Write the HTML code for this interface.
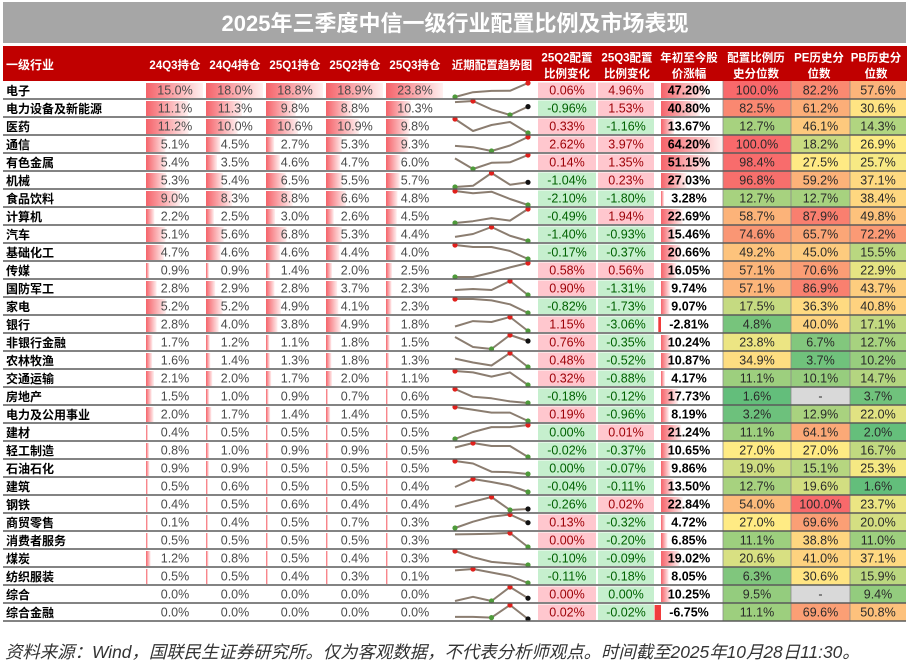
<!DOCTYPE html>
<html><head><meta charset="utf-8">
<style>
html,body{margin:0;padding:0;background:#fff;}
svg{display:block;font-family:"Liberation Sans","Noto Sans CJK SC",sans-serif;}
.t{font-size:22px;font-weight:bold;fill:#fff;text-anchor:middle;}
.h{font-size:11.5px;font-weight:bold;fill:#fff;text-anchor:middle;}
.l{font-size:12px;font-weight:bold;fill:#000;}
.v{font-size:12.5px;fill:#4a4a4a;text-anchor:middle;}
.y{font-size:12.5px;font-weight:bold;fill:#000;text-anchor:middle;}
.p{font-size:12.5px;fill:#9c0006;text-anchor:middle;}
.n{font-size:12.5px;fill:#006100;text-anchor:middle;}
.c{font-size:12.5px;fill:#2a2a2a;text-anchor:middle;}
.b{fill:url(#gb);}
.nb{fill:#f03c3c;}
.pb{fill:#ffc7ce;}
.gb{fill:#c6efce;}
.s{fill:none;stroke:#8b7d70;stroke-width:2;stroke-linejoin:round;}
.mr{fill:#e0201c;}
.mg{fill:#4e9a3a;}
.mk{fill:#111;}
.f{font-size:17.4px;font-style:italic;fill:#333;}
</style></head>
<body>
<svg width="908" height="664" viewBox="0 0 908 664" xmlns="http://www.w3.org/2000/svg">
<defs>
<linearGradient id="gb" x1="0" x2="1" y1="0" y2="0"><stop offset="0" stop-color="#f5636a"/><stop offset="1" stop-color="#fff0f0"/></linearGradient>
</defs>
<rect x="3" y="2" width="903" height="41" fill="#a6a6a6"/>
<text class="t" x="455" y="31">2025年三季度中信一级行业配置比例及市场表现</text>
<rect x="3" y="46" width="904" height="35" fill="#c00000"/>
<text class="h" x="6" y="69" style="text-anchor:start;font-size:12px">一级行业</text>
<text class="h" x="175" y="69">24Q3持仓</text>
<text class="h" x="235" y="69">24Q4持仓</text>
<text class="h" x="295" y="69">25Q1持仓</text>
<text class="h" x="355" y="69">25Q2持仓</text>
<text class="h" x="415" y="69">25Q3持仓</text>
<text class="h" x="492" y="69">近期配置趋势图</text>
<text class="h" x="567" y="61.5">25Q2配置</text><text class="h" x="567" y="77.5">比例变化</text>
<text class="h" x="627" y="61.5">25Q3配置</text><text class="h" x="627" y="77.5">比例变化</text>
<text class="h" x="689" y="61.5">年初至今股</text><text class="h" x="689" y="77.5">价涨幅</text>
<text class="h" x="756" y="61.5">配置比例历</text><text class="h" x="756" y="77.5">史分位数</text>
<text class="h" x="819" y="61.5">PE历史分</text><text class="h" x="819" y="77.5">位数</text>
<text class="h" x="876" y="61.5">PB历史分</text><text class="h" x="876" y="77.5">位数</text>

<!-- Row 0 -->
<g transform="translate(0,81)">
<text class="l" x="6" y="14">电子</text>
<rect class="b" x="146" y="2" width="57" height="15"/><rect class="b" x="206" y="2" width="57" height="15"/><rect class="b" x="266" y="2" width="57" height="15"/><rect class="b" x="326" y="2" width="57" height="15"/><rect class="b" x="386" y="2" width="57" height="15"/>
<text class="v" x="175" y="13.5">15.0%</text><text class="v" x="235" y="13.5">18.0%</text><text class="v" x="295" y="13.5">18.8%</text><text class="v" x="355" y="13.5">18.9%</text><text class="v" x="415" y="13.5">23.8%</text>
<polyline class="s" points="455,16 473,11.2 491.5,9.9 510,9.8 528,2"/><circle class="mg" cx="455" cy="16" r="2.6"/><circle class="mr" cx="528" cy="2" r="2.6"/>
<rect class="pb" x="538" y="1.5" width="58" height="15.5"/><text class="p" x="567" y="13.5">0.06%</text>
<rect class="pb" x="598" y="1.5" width="56" height="15.5"/><text class="p" x="626" y="13.5">4.96%</text>
<rect class="b" x="661" y="2" width="44.8" height="15"/><text class="y" x="689" y="13.5">47.20%</text>
<rect x="723" y="0" width="68" height="18" fill="rgb(248,105,107)"/><text class="c" x="757" y="13.5">100.0%</text>
<rect x="791" y="0" width="59" height="18" fill="rgb(250,137,113)"/><text class="c" x="820.5" y="13.5">82.2%</text>
<rect x="850" y="0" width="56" height="18" fill="rgb(252,180,122)"/><text class="c" x="878" y="13.5">57.6%</text>
</g>
<!-- Row 1 -->
<g transform="translate(0,99)">
<text class="l" x="6" y="14">电力设备及新能源</text>
<rect class="b" x="146" y="2" width="42.2" height="15"/><rect class="b" x="206" y="2" width="35.8" height="15"/><rect class="b" x="266" y="2" width="29.7" height="15"/><rect class="b" x="326" y="2" width="26.5" height="15"/><rect class="b" x="386" y="2" width="24.7" height="15"/>
<text class="v" x="175" y="13.5">11.1%</text><text class="v" x="235" y="13.5">11.3%</text><text class="v" x="295" y="13.5">9.8%</text><text class="v" x="355" y="13.5">8.8%</text><text class="v" x="415" y="13.5">10.3%</text>
<polyline class="s" points="455,3.1 473,2 491.5,10.4 510,16 528,7.6"/><circle class="mr" cx="473" cy="2" r="2.6"/><circle class="mg" cx="510" cy="16" r="2.6"/><circle class="mk" cx="528" cy="7.6" r="2.6"/>
<rect class="gb" x="538" y="1.5" width="58" height="15.5"/><text class="n" x="567" y="13.5">-0.96%</text>
<rect class="pb" x="598" y="1.5" width="56" height="15.5"/><text class="p" x="626" y="13.5">1.53%</text>
<rect class="b" x="661" y="2" width="38.8" height="15"/><text class="y" x="689" y="13.5">40.80%</text>
<rect x="723" y="0" width="68" height="18" fill="rgb(250,136,113)"/><text class="c" x="757" y="13.5">82.5%</text>
<rect x="791" y="0" width="59" height="18" fill="rgb(252,174,120)"/><text class="c" x="820.5" y="13.5">61.2%</text>
<rect x="850" y="0" width="56" height="18" fill="rgb(255,228,131)"/><text class="c" x="878" y="13.5">30.6%</text>
</g>
<!-- Row 2 -->
<g transform="translate(0,117)">
<text class="l" x="6" y="14">医药</text>
<rect class="b" x="146" y="2" width="42.6" height="15"/><rect class="b" x="206" y="2" width="31.7" height="15"/><rect class="b" x="266" y="2" width="32.1" height="15"/><rect class="b" x="326" y="2" width="32.9" height="15"/><rect class="b" x="386" y="2" width="23.5" height="15"/>
<text class="v" x="175" y="13.5">11.2%</text><text class="v" x="235" y="13.5">10.0%</text><text class="v" x="295" y="13.5">10.6%</text><text class="v" x="355" y="13.5">10.9%</text><text class="v" x="415" y="13.5">9.8%</text>
<polyline class="s" points="455,2 473,14 491.5,8 510,5 528,16"/><circle class="mr" cx="455" cy="2" r="2.6"/><circle class="mg" cx="528" cy="16" r="2.6"/>
<rect class="pb" x="538" y="1.5" width="58" height="15.5"/><text class="p" x="567" y="13.5">0.33%</text>
<rect class="gb" x="598" y="1.5" width="56" height="15.5"/><text class="n" x="626" y="13.5">-1.16%</text>
<rect class="b" x="661" y="2" width="13" height="15"/><text class="y" x="689" y="13.5">13.67%</text>
<rect x="723" y="0" width="68" height="18" fill="rgb(167,210,127)"/><text class="c" x="757" y="13.5">12.7%</text>
<rect x="791" y="0" width="59" height="18" fill="rgb(253,201,125)"/><text class="c" x="820.5" y="13.5">46.1%</text>
<rect x="850" y="0" width="56" height="18" fill="rgb(177,213,128)"/><text class="c" x="878" y="13.5">14.3%</text>
</g>
<!-- Row 3 -->
<g transform="translate(0,135)">
<text class="l" x="6" y="14">通信</text>
<rect class="b" x="146" y="2" width="19.4" height="15"/><rect class="b" x="206" y="2" width="14.3" height="15"/><rect class="b" x="266" y="2" width="8.2" height="15"/><rect class="b" x="326" y="2" width="16" height="15"/><rect class="b" x="386" y="2" width="22.3" height="15"/>
<text class="v" x="175" y="13.5">5.1%</text><text class="v" x="235" y="13.5">4.5%</text><text class="v" x="295" y="13.5">2.7%</text><text class="v" x="355" y="13.5">5.3%</text><text class="v" x="415" y="13.5">9.3%</text>
<polyline class="s" points="455,10.9 473,12.2 491.5,16 510,10.5 528,2"/><circle class="mg" cx="491.5" cy="16" r="2.6"/><circle class="mr" cx="528" cy="2" r="2.6"/>
<rect class="pb" x="538" y="1.5" width="58" height="15.5"/><text class="p" x="567" y="13.5">2.62%</text>
<rect class="pb" x="598" y="1.5" width="56" height="15.5"/><text class="p" x="626" y="13.5">3.97%</text>
<rect class="b" x="661" y="2" width="61" height="15"/><text class="y" x="689" y="13.5">64.20%</text>
<rect x="723" y="0" width="68" height="18" fill="rgb(248,105,107)"/><text class="c" x="757" y="13.5">100.0%</text>
<rect x="791" y="0" width="59" height="18" fill="rgb(201,219,129)"/><text class="c" x="820.5" y="13.5">18.2%</text>
<rect x="850" y="0" width="56" height="18" fill="rgb(254,235,132)"/><text class="c" x="878" y="13.5">26.9%</text>
</g>
<!-- Row 4 -->
<g transform="translate(0,153)">
<text class="l" x="6" y="14">有色金属</text>
<rect class="b" x="146" y="2" width="20.5" height="15"/><rect class="b" x="206" y="2" width="11.1" height="15"/><rect class="b" x="266" y="2" width="13.9" height="15"/><rect class="b" x="326" y="2" width="14.2" height="15"/><rect class="b" x="386" y="2" width="14.4" height="15"/>
<text class="v" x="175" y="13.5">5.4%</text><text class="v" x="235" y="13.5">3.5%</text><text class="v" x="295" y="13.5">4.6%</text><text class="v" x="355" y="13.5">4.7%</text><text class="v" x="415" y="13.5">6.0%</text>
<polyline class="s" points="455,5.4 473,16 491.5,9.8 510,9.3 528,2"/><circle class="mg" cx="473" cy="16" r="2.6"/><circle class="mr" cx="528" cy="2" r="2.6"/>
<rect class="pb" x="538" y="1.5" width="58" height="15.5"/><text class="p" x="567" y="13.5">0.14%</text>
<rect class="pb" x="598" y="1.5" width="56" height="15.5"/><text class="p" x="626" y="13.5">1.35%</text>
<rect class="b" x="661" y="2" width="48.6" height="15"/><text class="y" x="689" y="13.5">51.15%</text>
<rect x="723" y="0" width="68" height="18" fill="rgb(248,108,108)"/><text class="c" x="757" y="13.5">98.4%</text>
<rect x="791" y="0" width="59" height="18" fill="rgb(255,234,132)"/><text class="c" x="820.5" y="13.5">27.5%</text>
<rect x="850" y="0" width="56" height="18" fill="rgb(247,233,132)"/><text class="c" x="878" y="13.5">25.7%</text>
</g>
<!-- Row 5 -->
<g transform="translate(0,171)">
<text class="l" x="6" y="14">机械</text>
<rect class="b" x="146" y="2" width="20.1" height="15"/><rect class="b" x="206" y="2" width="17.1" height="15"/><rect class="b" x="266" y="2" width="19.7" height="15"/><rect class="b" x="326" y="2" width="16.6" height="15"/><rect class="b" x="386" y="2" width="13.7" height="15"/>
<text class="v" x="175" y="13.5">5.3%</text><text class="v" x="235" y="13.5">5.4%</text><text class="v" x="295" y="13.5">6.5%</text><text class="v" x="355" y="13.5">5.5%</text><text class="v" x="415" y="13.5">5.7%</text>
<polyline class="s" points="455,16 473,14.8 491.5,2 510,13.7 528,11.3"/><circle class="mg" cx="455" cy="16" r="2.6"/><circle class="mr" cx="491.5" cy="2" r="2.6"/><circle class="mk" cx="528" cy="11.3" r="2.6"/>
<rect class="gb" x="538" y="1.5" width="58" height="15.5"/><text class="n" x="567" y="13.5">-1.04%</text>
<rect class="pb" x="598" y="1.5" width="56" height="15.5"/><text class="p" x="626" y="13.5">0.23%</text>
<rect class="b" x="661" y="2" width="25.7" height="15"/><text class="y" x="689" y="13.5">27.03%</text>
<rect x="723" y="0" width="68" height="18" fill="rgb(248,111,108)"/><text class="c" x="757" y="13.5">96.8%</text>
<rect x="791" y="0" width="59" height="18" fill="rgb(252,178,121)"/><text class="c" x="820.5" y="13.5">59.2%</text>
<rect x="850" y="0" width="56" height="18" fill="rgb(254,217,129)"/><text class="c" x="878" y="13.5">37.1%</text>
</g>
<!-- Row 6 -->
<g transform="translate(0,189)">
<text class="l" x="6" y="14">食品饮料</text>
<rect class="b" x="146" y="2" width="34.2" height="15"/><rect class="b" x="206" y="2" width="26.3" height="15"/><rect class="b" x="266" y="2" width="26.7" height="15"/><rect class="b" x="326" y="2" width="19.9" height="15"/><rect class="b" x="386" y="2" width="11.5" height="15"/>
<text class="v" x="175" y="13.5">9.0%</text><text class="v" x="235" y="13.5">8.3%</text><text class="v" x="295" y="13.5">8.8%</text><text class="v" x="355" y="13.5">6.6%</text><text class="v" x="415" y="13.5">4.8%</text>
<polyline class="s" points="455,2 473,4.3 491.5,2.7 510,10 528,16"/><circle class="mr" cx="455" cy="2" r="2.6"/><circle class="mg" cx="528" cy="16" r="2.6"/>
<rect class="gb" x="538" y="1.5" width="58" height="15.5"/><text class="n" x="567" y="13.5">-2.10%</text>
<rect class="gb" x="598" y="1.5" width="56" height="15.5"/><text class="n" x="626" y="13.5">-1.80%</text>
<rect class="b" x="661" y="2" width="3.1" height="15"/><text class="y" x="689" y="13.5">3.28%</text>
<rect x="723" y="0" width="68" height="18" fill="rgb(167,210,127)"/><text class="c" x="757" y="13.5">12.7%</text>
<rect x="791" y="0" width="59" height="18" fill="rgb(167,210,127)"/><text class="c" x="820.5" y="13.5">12.7%</text>
<rect x="850" y="0" width="56" height="18" fill="rgb(254,215,128)"/><text class="c" x="878" y="13.5">38.4%</text>
</g>
<!-- Row 7 -->
<g transform="translate(0,207)">
<text class="l" x="6" y="14">计算机</text>
<rect class="b" x="146" y="2" width="8.4" height="15"/><rect class="b" x="206" y="2" width="7.9" height="15"/><rect class="b" x="266" y="2" width="9.1" height="15"/><rect class="b" x="326" y="2" width="7.8" height="15"/><rect class="b" x="386" y="2" width="10.8" height="15"/>
<text class="v" x="175" y="13.5">2.2%</text><text class="v" x="235" y="13.5">2.5%</text><text class="v" x="295" y="13.5">3.0%</text><text class="v" x="355" y="13.5">2.6%</text><text class="v" x="415" y="13.5">4.5%</text>
<polyline class="s" points="455,16 473,14.2 491.5,11.1 510,13.6 528,2"/><circle class="mg" cx="455" cy="16" r="2.6"/><circle class="mr" cx="528" cy="2" r="2.6"/>
<rect class="gb" x="538" y="1.5" width="58" height="15.5"/><text class="n" x="567" y="13.5">-0.49%</text>
<rect class="pb" x="598" y="1.5" width="56" height="15.5"/><text class="p" x="626" y="13.5">1.94%</text>
<rect class="b" x="661" y="2" width="21.6" height="15"/><text class="y" x="689" y="13.5">22.69%</text>
<rect x="723" y="0" width="68" height="18" fill="rgb(252,179,121)"/><text class="c" x="757" y="13.5">58.7%</text>
<rect x="791" y="0" width="59" height="18" fill="rgb(249,127,111)"/><text class="c" x="820.5" y="13.5">87.9%</text>
<rect x="850" y="0" width="56" height="18" fill="rgb(253,194,124)"/><text class="c" x="878" y="13.5">49.8%</text>
</g>
<!-- Row 8 -->
<g transform="translate(0,225)">
<text class="l" x="6" y="14">汽车</text>
<rect class="b" x="146" y="2" width="19.4" height="15"/><rect class="b" x="206" y="2" width="17.7" height="15"/><rect class="b" x="266" y="2" width="20.6" height="15"/><rect class="b" x="326" y="2" width="16" height="15"/><rect class="b" x="386" y="2" width="10.5" height="15"/>
<text class="v" x="175" y="13.5">5.1%</text><text class="v" x="235" y="13.5">5.6%</text><text class="v" x="295" y="13.5">6.8%</text><text class="v" x="355" y="13.5">5.3%</text><text class="v" x="415" y="13.5">4.4%</text>
<polyline class="s" points="455,11.9 473,9 491.5,2 510,10.75 528,16"/><circle class="mr" cx="491.5" cy="2" r="2.6"/><circle class="mg" cx="528" cy="16" r="2.6"/>
<rect class="gb" x="538" y="1.5" width="58" height="15.5"/><text class="n" x="567" y="13.5">-1.40%</text>
<rect class="gb" x="598" y="1.5" width="56" height="15.5"/><text class="n" x="626" y="13.5">-0.93%</text>
<rect class="b" x="661" y="2" width="14.7" height="15"/><text class="y" x="689" y="13.5">15.46%</text>
<rect x="723" y="0" width="68" height="18" fill="rgb(250,150,116)"/><text class="c" x="757" y="13.5">74.6%</text>
<rect x="791" y="0" width="59" height="18" fill="rgb(251,166,119)"/><text class="c" x="820.5" y="13.5">65.7%</text>
<rect x="850" y="0" width="56" height="18" fill="rgb(251,154,117)"/><text class="c" x="878" y="13.5">72.2%</text>
</g>
<!-- Row 9 -->
<g transform="translate(0,243)">
<text class="l" x="6" y="14">基础化工</text>
<rect class="b" x="146" y="2" width="17.9" height="15"/><rect class="b" x="206" y="2" width="14.6" height="15"/><rect class="b" x="266" y="2" width="13.9" height="15"/><rect class="b" x="326" y="2" width="13.3" height="15"/><rect class="b" x="386" y="2" width="9.6" height="15"/>
<text class="v" x="175" y="13.5">4.7%</text><text class="v" x="235" y="13.5">4.6%</text><text class="v" x="295" y="13.5">4.6%</text><text class="v" x="355" y="13.5">4.4%</text><text class="v" x="415" y="13.5">4.0%</text>
<polyline class="s" points="455,2 473,4 491.5,4 510,8 528,16"/><circle class="mr" cx="455" cy="2" r="2.6"/><circle class="mg" cx="528" cy="16" r="2.6"/>
<rect class="gb" x="538" y="1.5" width="58" height="15.5"/><text class="n" x="567" y="13.5">-0.17%</text>
<rect class="gb" x="598" y="1.5" width="56" height="15.5"/><text class="n" x="626" y="13.5">-0.37%</text>
<rect class="b" x="661" y="2" width="19.6" height="15"/><text class="y" x="689" y="13.5">20.66%</text>
<rect x="723" y="0" width="68" height="18" fill="rgb(253,195,124)"/><text class="c" x="757" y="13.5">49.2%</text>
<rect x="791" y="0" width="59" height="18" fill="rgb(253,203,126)"/><text class="c" x="820.5" y="13.5">45.0%</text>
<rect x="850" y="0" width="56" height="18" fill="rgb(185,215,128)"/><text class="c" x="878" y="13.5">15.5%</text>
</g>
<!-- Row 10 -->
<g transform="translate(0,261)">
<text class="l" x="6" y="14">传媒</text>
<rect class="b" x="146" y="2" width="3.4" height="15"/><rect class="b" x="206" y="2" width="2.9" height="15"/><rect class="b" x="266" y="2" width="4.2" height="15"/><rect class="b" x="326" y="2" width="6" height="15"/><rect class="b" x="386" y="2" width="6" height="15"/>
<text class="v" x="175" y="13.5">0.9%</text><text class="v" x="235" y="13.5">0.9%</text><text class="v" x="295" y="13.5">1.4%</text><text class="v" x="355" y="13.5">2.0%</text><text class="v" x="415" y="13.5">2.5%</text>
<polyline class="s" points="455,16 473,16 491.5,11.6 510,6.4 528,2"/><circle class="mg" cx="455" cy="16" r="2.6"/><circle class="mr" cx="528" cy="2" r="2.6"/>
<rect class="pb" x="538" y="1.5" width="58" height="15.5"/><text class="p" x="567" y="13.5">0.58%</text>
<rect class="pb" x="598" y="1.5" width="56" height="15.5"/><text class="p" x="626" y="13.5">0.56%</text>
<rect class="b" x="661" y="2" width="15.3" height="15"/><text class="y" x="689" y="13.5">16.05%</text>
<rect x="723" y="0" width="68" height="18" fill="rgb(252,181,122)"/><text class="c" x="757" y="13.5">57.1%</text>
<rect x="791" y="0" width="59" height="18" fill="rgb(251,157,117)"/><text class="c" x="820.5" y="13.5">70.6%</text>
<rect x="850" y="0" width="56" height="18" fill="rgb(230,228,131)"/><text class="c" x="878" y="13.5">22.9%</text>
</g>
<!-- Row 11 -->
<g transform="translate(0,279)">
<text class="l" x="6" y="14">国防军工</text>
<rect class="b" x="146" y="2" width="10.6" height="15"/><rect class="b" x="206" y="2" width="9.2" height="15"/><rect class="b" x="266" y="2" width="8.5" height="15"/><rect class="b" x="326" y="2" width="11.2" height="15"/><rect class="b" x="386" y="2" width="5.5" height="15"/>
<text class="v" x="175" y="13.5">2.8%</text><text class="v" x="235" y="13.5">2.9%</text><text class="v" x="295" y="13.5">2.8%</text><text class="v" x="355" y="13.5">3.7%</text><text class="v" x="415" y="13.5">2.3%</text>
<polyline class="s" points="455,11 473,10 491.5,11 510,2 528,16"/><circle class="mr" cx="510" cy="2" r="2.6"/><circle class="mg" cx="528" cy="16" r="2.6"/>
<rect class="pb" x="538" y="1.5" width="58" height="15.5"/><text class="p" x="567" y="13.5">0.90%</text>
<rect class="gb" x="598" y="1.5" width="56" height="15.5"/><text class="n" x="626" y="13.5">-1.31%</text>
<rect class="b" x="661" y="2" width="9.3" height="15"/><text class="y" x="689" y="13.5">9.74%</text>
<rect x="723" y="0" width="68" height="18" fill="rgb(252,181,122)"/><text class="c" x="757" y="13.5">57.1%</text>
<rect x="791" y="0" width="59" height="18" fill="rgb(249,128,111)"/><text class="c" x="820.5" y="13.5">86.9%</text>
<rect x="850" y="0" width="56" height="18" fill="rgb(253,205,126)"/><text class="c" x="878" y="13.5">43.7%</text>
</g>
<!-- Row 12 -->
<g transform="translate(0,297)">
<text class="l" x="6" y="14">家电</text>
<rect class="b" x="146" y="2" width="19.8" height="15"/><rect class="b" x="206" y="2" width="16.5" height="15"/><rect class="b" x="266" y="2" width="14.9" height="15"/><rect class="b" x="326" y="2" width="12.4" height="15"/><rect class="b" x="386" y="2" width="5.5" height="15"/>
<text class="v" x="175" y="13.5">5.2%</text><text class="v" x="235" y="13.5">5.2%</text><text class="v" x="295" y="13.5">4.9%</text><text class="v" x="355" y="13.5">4.1%</text><text class="v" x="415" y="13.5">2.3%</text>
<polyline class="s" points="455,2 473,2 491.5,3.4 510,7.3 528,16"/><circle class="mr" cx="455" cy="2" r="2.6"/><circle class="mg" cx="528" cy="16" r="2.6"/>
<rect class="gb" x="538" y="1.5" width="58" height="15.5"/><text class="n" x="567" y="13.5">-0.82%</text>
<rect class="gb" x="598" y="1.5" width="56" height="15.5"/><text class="n" x="626" y="13.5">-1.73%</text>
<rect class="b" x="661" y="2" width="8.6" height="15"/><text class="y" x="689" y="13.5">9.07%</text>
<rect x="723" y="0" width="68" height="18" fill="rgb(197,218,129)"/><text class="c" x="757" y="13.5">17.5%</text>
<rect x="791" y="0" width="59" height="18" fill="rgb(254,218,129)"/><text class="c" x="820.5" y="13.5">36.3%</text>
<rect x="850" y="0" width="56" height="18" fill="rgb(254,210,127)"/><text class="c" x="878" y="13.5">40.8%</text>
</g>
<!-- Row 13 -->
<g transform="translate(0,315)">
<text class="l" x="6" y="14">银行</text>
<rect class="b" x="146" y="2" width="10.6" height="15"/><rect class="b" x="206" y="2" width="12.7" height="15"/><rect class="b" x="266" y="2" width="11.5" height="15"/><rect class="b" x="326" y="2" width="14.8" height="15"/><rect class="b" x="386" y="2" width="4.3" height="15"/>
<text class="v" x="175" y="13.5">2.8%</text><text class="v" x="235" y="13.5">4.0%</text><text class="v" x="295" y="13.5">3.8%</text><text class="v" x="355" y="13.5">4.9%</text><text class="v" x="415" y="13.5">1.8%</text>
<polyline class="s" points="455,11.5 473,6.1 491.5,7 510,2 528,16"/><circle class="mr" cx="510" cy="2" r="2.6"/><circle class="mg" cx="528" cy="16" r="2.6"/>
<rect class="pb" x="538" y="1.5" width="58" height="15.5"/><text class="p" x="567" y="13.5">1.15%</text>
<rect class="gb" x="598" y="1.5" width="56" height="15.5"/><text class="n" x="626" y="13.5">-3.06%</text>
<rect class="nb" x="658.3" y="2" width="2.7" height="15"/><text class="y" x="689" y="13.5">-2.81%</text>
<rect x="723" y="0" width="68" height="18" fill="rgb(119,196,124)"/><text class="c" x="757" y="13.5">4.8%</text>
<rect x="791" y="0" width="59" height="18" fill="rgb(254,212,128)"/><text class="c" x="820.5" y="13.5">40.0%</text>
<rect x="850" y="0" width="56" height="18" fill="rgb(194,217,129)"/><text class="c" x="878" y="13.5">17.1%</text>
</g>
<!-- Row 14 -->
<g transform="translate(0,333)">
<text class="l" x="6" y="14">非银行金融</text>
<rect class="b" x="146" y="2" width="6.5" height="15"/><rect class="b" x="206" y="2" width="3.8" height="15"/><rect class="b" x="266" y="2" width="3.3" height="15"/><rect class="b" x="326" y="2" width="5.4" height="15"/><rect class="b" x="386" y="2" width="3.6" height="15"/>
<text class="v" x="175" y="13.5">1.7%</text><text class="v" x="235" y="13.5">1.2%</text><text class="v" x="295" y="13.5">1.1%</text><text class="v" x="355" y="13.5">1.8%</text><text class="v" x="415" y="13.5">1.5%</text>
<polyline class="s" points="455,4 473,14 491.5,16 510,2 528,8"/><circle class="mg" cx="491.5" cy="16" r="2.6"/><circle class="mr" cx="510" cy="2" r="2.6"/><circle class="mk" cx="528" cy="8" r="2.6"/>
<rect class="pb" x="538" y="1.5" width="58" height="15.5"/><text class="p" x="567" y="13.5">0.76%</text>
<rect class="gb" x="598" y="1.5" width="56" height="15.5"/><text class="n" x="626" y="13.5">-0.35%</text>
<rect class="b" x="661" y="2" width="9.7" height="15"/><text class="y" x="689" y="13.5">10.24%</text>
<rect x="723" y="0" width="68" height="18" fill="rgb(236,229,131)"/><text class="c" x="757" y="13.5">23.8%</text>
<rect x="791" y="0" width="59" height="18" fill="rgb(130,199,125)"/><text class="c" x="820.5" y="13.5">6.7%</text>
<rect x="850" y="0" width="56" height="18" fill="rgb(167,210,127)"/><text class="c" x="878" y="13.5">12.7%</text>
</g>
<!-- Row 15 -->
<g transform="translate(0,351)">
<text class="l" x="6" y="14">农林牧渔</text>
<rect class="b" x="146" y="2" width="6.1" height="15"/><rect class="b" x="206" y="2" width="4.4" height="15"/><rect class="b" x="266" y="2" width="3.9" height="15"/><rect class="b" x="326" y="2" width="5.4" height="15"/><rect class="b" x="386" y="2" width="3.1" height="15"/>
<text class="v" x="175" y="13.5">1.6%</text><text class="v" x="235" y="13.5">1.4%</text><text class="v" x="295" y="13.5">1.3%</text><text class="v" x="355" y="13.5">1.8%</text><text class="v" x="415" y="13.5">1.3%</text>
<polyline class="s" points="455,7.6 473,11.5 491.5,14.5 510,2 528,16"/><circle class="mr" cx="510" cy="2" r="2.6"/><circle class="mg" cx="528" cy="16" r="2.6"/>
<rect class="pb" x="538" y="1.5" width="58" height="15.5"/><text class="p" x="567" y="13.5">0.48%</text>
<rect class="gb" x="598" y="1.5" width="56" height="15.5"/><text class="n" x="626" y="13.5">-0.52%</text>
<rect class="b" x="661" y="2" width="10.3" height="15"/><text class="y" x="689" y="13.5">10.87%</text>
<rect x="723" y="0" width="68" height="18" fill="rgb(254,221,129)"/><text class="c" x="757" y="13.5">34.9%</text>
<rect x="791" y="0" width="59" height="18" fill="rgb(112,194,124)"/><text class="c" x="820.5" y="13.5">3.7%</text>
<rect x="850" y="0" width="56" height="18" fill="rgb(152,205,126)"/><text class="c" x="878" y="13.5">10.2%</text>
</g>
<!-- Row 16 -->
<g transform="translate(0,369)">
<text class="l" x="6" y="14">交通运输</text>
<rect class="b" x="146" y="2" width="8" height="15"/><rect class="b" x="206" y="2" width="6.3" height="15"/><rect class="b" x="266" y="2" width="5.2" height="15"/><rect class="b" x="326" y="2" width="6" height="15"/><rect class="b" x="386" y="2" width="2.6" height="15"/>
<text class="v" x="175" y="13.5">2.1%</text><text class="v" x="235" y="13.5">2.0%</text><text class="v" x="295" y="13.5">1.7%</text><text class="v" x="355" y="13.5">2.0%</text><text class="v" x="415" y="13.5">1.1%</text>
<polyline class="s" points="455,2 473,3.4 491.5,7.6 510,3.4 528,16"/><circle class="mr" cx="455" cy="2" r="2.6"/><circle class="mg" cx="528" cy="16" r="2.6"/>
<rect class="pb" x="538" y="1.5" width="58" height="15.5"/><text class="p" x="567" y="13.5">0.32%</text>
<rect class="gb" x="598" y="1.5" width="56" height="15.5"/><text class="n" x="626" y="13.5">-0.88%</text>
<rect class="b" x="661" y="2" width="4" height="15"/><text class="y" x="689" y="13.5">4.17%</text>
<rect x="723" y="0" width="68" height="18" fill="rgb(157,207,126)"/><text class="c" x="757" y="13.5">11.1%</text>
<rect x="791" y="0" width="59" height="18" fill="rgb(151,205,126)"/><text class="c" x="820.5" y="13.5">10.1%</text>
<rect x="850" y="0" width="56" height="18" fill="rgb(180,213,128)"/><text class="c" x="878" y="13.5">14.7%</text>
</g>
<!-- Row 17 -->
<g transform="translate(0,387)">
<text class="l" x="6" y="14">房地产</text>
<rect class="b" x="146" y="2" width="5.7" height="15"/><rect class="b" x="206" y="2" width="3.2" height="15"/><rect class="b" x="266" y="2" width="2.7" height="15"/><rect class="b" x="326" y="2" width="2.1" height="15"/><rect class="b" x="386" y="2" width="2" height="15"/>
<text class="v" x="175" y="13.5">1.5%</text><text class="v" x="235" y="13.5">1.0%</text><text class="v" x="295" y="13.5">0.9%</text><text class="v" x="355" y="13.5">0.7%</text><text class="v" x="415" y="13.5">0.6%</text>
<polyline class="s" points="455,2 473,9.8 491.5,11.3 510,14.4 528,16"/><circle class="mr" cx="455" cy="2" r="2.6"/><circle class="mg" cx="528" cy="16" r="2.6"/>
<rect class="gb" x="538" y="1.5" width="58" height="15.5"/><text class="n" x="567" y="13.5">-0.18%</text>
<rect class="gb" x="598" y="1.5" width="56" height="15.5"/><text class="n" x="626" y="13.5">-0.12%</text>
<rect class="b" x="661" y="2" width="16.8" height="15"/><text class="y" x="689" y="13.5">17.73%</text>
<rect x="723" y="0" width="68" height="18" fill="rgb(99,190,123)"/><text class="c" x="757" y="13.5">1.6%</text>
<rect x="791" y="0" width="59" height="18" fill="#d9d9d9"/><text class="c" x="820.5" y="13.5">-</text>
<rect x="850" y="0" width="56" height="18" fill="rgb(112,194,124)"/><text class="c" x="878" y="13.5">3.7%</text>
</g>
<!-- Row 18 -->
<g transform="translate(0,405)">
<text class="l" x="6" y="14">电力及公用事业</text>
<rect class="b" x="146" y="2" width="7.6" height="15"/><rect class="b" x="206" y="2" width="5.4" height="15"/><rect class="b" x="266" y="2" width="4.2" height="15"/><rect class="b" x="326" y="2" width="4.2" height="15"/><rect class="b" x="386" y="2" width="2" height="15"/>
<text class="v" x="175" y="13.5">2.0%</text><text class="v" x="235" y="13.5">1.7%</text><text class="v" x="295" y="13.5">1.4%</text><text class="v" x="355" y="13.5">1.4%</text><text class="v" x="415" y="13.5">0.5%</text>
<polyline class="s" points="455,2 473,4.8 491.5,7.6 510,7.6 528,16"/><circle class="mr" cx="455" cy="2" r="2.6"/><circle class="mg" cx="528" cy="16" r="2.6"/>
<rect class="pb" x="538" y="1.5" width="58" height="15.5"/><text class="p" x="567" y="13.5">0.19%</text>
<rect class="gb" x="598" y="1.5" width="56" height="15.5"/><text class="n" x="626" y="13.5">-0.96%</text>
<rect class="b" x="661" y="2" width="7.8" height="15"/><text class="y" x="689" y="13.5">8.19%</text>
<rect x="723" y="0" width="68" height="18" fill="rgb(109,193,124)"/><text class="c" x="757" y="13.5">3.2%</text>
<rect x="791" y="0" width="59" height="18" fill="rgb(169,210,127)"/><text class="c" x="820.5" y="13.5">12.9%</text>
<rect x="850" y="0" width="56" height="18" fill="rgb(225,226,130)"/><text class="c" x="878" y="13.5">22.0%</text>
</g>
<!-- Row 19 -->
<g transform="translate(0,423)">
<text class="l" x="6" y="14">建材</text>
<rect class="b" x="146" y="2" width="2" height="15"/><rect class="b" x="206" y="2" width="2" height="15"/><rect class="b" x="266" y="2" width="2" height="15"/><rect class="b" x="326" y="2" width="2" height="15"/><rect class="b" x="386" y="2" width="2" height="15"/>
<text class="v" x="175" y="13.5">0.4%</text><text class="v" x="235" y="13.5">0.5%</text><text class="v" x="295" y="13.5">0.5%</text><text class="v" x="355" y="13.5">0.5%</text><text class="v" x="415" y="13.5">0.5%</text>
<polyline class="s" points="455,16 473,9 491.5,4.1 510,4.1 528,2"/><circle class="mg" cx="455" cy="16" r="2.6"/><circle class="mr" cx="528" cy="2" r="2.6"/>
<rect class="gb" x="538" y="1.5" width="58" height="15.5"/><text class="n" x="567" y="13.5">0.00%</text>
<rect class="pb" x="598" y="1.5" width="56" height="15.5"/><text class="p" x="626" y="13.5">0.01%</text>
<rect class="b" x="661" y="2" width="20.2" height="15"/><text class="y" x="689" y="13.5">21.24%</text>
<rect x="723" y="0" width="68" height="18" fill="rgb(157,207,126)"/><text class="c" x="757" y="13.5">11.1%</text>
<rect x="791" y="0" width="59" height="18" fill="rgb(251,169,119)"/><text class="c" x="820.5" y="13.5">64.1%</text>
<rect x="850" y="0" width="56" height="18" fill="rgb(101,191,123)"/><text class="c" x="878" y="13.5">2.0%</text>
</g>
<!-- Row 20 -->
<g transform="translate(0,441)">
<text class="l" x="6" y="14">轻工制造</text>
<rect class="b" x="146" y="2" width="3" height="15"/><rect class="b" x="206" y="2" width="3.2" height="15"/><rect class="b" x="266" y="2" width="2.7" height="15"/><rect class="b" x="326" y="2" width="2.7" height="15"/><rect class="b" x="386" y="2" width="2" height="15"/>
<text class="v" x="175" y="13.5">0.8%</text><text class="v" x="235" y="13.5">1.0%</text><text class="v" x="295" y="13.5">0.9%</text><text class="v" x="355" y="13.5">0.9%</text><text class="v" x="415" y="13.5">0.5%</text>
<polyline class="s" points="455,6.5 473,2 491.5,5 510,5 528,16"/><circle class="mr" cx="473" cy="2" r="2.6"/><circle class="mg" cx="528" cy="16" r="2.6"/>
<rect class="gb" x="538" y="1.5" width="58" height="15.5"/><text class="n" x="567" y="13.5">-0.02%</text>
<rect class="gb" x="598" y="1.5" width="56" height="15.5"/><text class="n" x="626" y="13.5">-0.37%</text>
<rect class="b" x="661" y="2" width="10.1" height="15"/><text class="y" x="689" y="13.5">10.65%</text>
<rect x="723" y="0" width="68" height="18" fill="rgb(255,235,132)"/><text class="c" x="757" y="13.5">27.0%</text>
<rect x="791" y="0" width="59" height="18" fill="rgb(255,235,132)"/><text class="c" x="820.5" y="13.5">27.0%</text>
<rect x="850" y="0" width="56" height="18" fill="rgb(192,217,128)"/><text class="c" x="878" y="13.5">16.7%</text>
</g>
<!-- Row 21 -->
<g transform="translate(0,459)">
<text class="l" x="6" y="14">石油石化</text>
<rect class="b" x="146" y="2" width="3.4" height="15"/><rect class="b" x="206" y="2" width="2.9" height="15"/><rect class="b" x="266" y="2" width="2" height="15"/><rect class="b" x="326" y="2" width="2" height="15"/><rect class="b" x="386" y="2" width="2" height="15"/>
<text class="v" x="175" y="13.5">0.9%</text><text class="v" x="235" y="13.5">0.9%</text><text class="v" x="295" y="13.5">0.5%</text><text class="v" x="355" y="13.5">0.5%</text><text class="v" x="415" y="13.5">0.5%</text>
<polyline class="s" points="455,2 473,4.5 491.5,12.7 510,13.2 528,15"/><circle class="mr" cx="455" cy="2" r="2.6"/><circle class="mg" cx="528" cy="15" r="2.6"/>
<rect class="gb" x="538" y="1.5" width="58" height="15.5"/><text class="n" x="567" y="13.5">0.00%</text>
<rect class="gb" x="598" y="1.5" width="56" height="15.5"/><text class="n" x="626" y="13.5">-0.07%</text>
<rect class="b" x="661" y="2" width="9.4" height="15"/><text class="y" x="689" y="13.5">9.86%</text>
<rect x="723" y="0" width="68" height="18" fill="rgb(206,221,129)"/><text class="c" x="757" y="13.5">19.0%</text>
<rect x="791" y="0" width="59" height="18" fill="rgb(182,214,128)"/><text class="c" x="820.5" y="13.5">15.1%</text>
<rect x="850" y="0" width="56" height="18" fill="rgb(245,232,131)"/><text class="c" x="878" y="13.5">25.3%</text>
</g>
<!-- Row 22 -->
<g transform="translate(0,477)">
<text class="l" x="6" y="14">建筑</text>
<rect class="b" x="146" y="2" width="2" height="15"/><rect class="b" x="206" y="2" width="2" height="15"/><rect class="b" x="266" y="2" width="2" height="15"/><rect class="b" x="326" y="2" width="2" height="15"/><rect class="b" x="386" y="2" width="2" height="15"/>
<text class="v" x="175" y="13.5">0.5%</text><text class="v" x="235" y="13.5">0.6%</text><text class="v" x="295" y="13.5">0.5%</text><text class="v" x="355" y="13.5">0.5%</text><text class="v" x="415" y="13.5">0.4%</text>
<polyline class="s" points="455,10 473,2 491.5,5 510,8.5 528,15"/><circle class="mr" cx="473" cy="2" r="2.6"/><circle class="mg" cx="528" cy="15" r="2.6"/>
<rect class="gb" x="538" y="1.5" width="58" height="15.5"/><text class="n" x="567" y="13.5">-0.04%</text>
<rect class="gb" x="598" y="1.5" width="56" height="15.5"/><text class="n" x="626" y="13.5">-0.11%</text>
<rect class="b" x="661" y="2" width="12.8" height="15"/><text class="y" x="689" y="13.5">13.50%</text>
<rect x="723" y="0" width="68" height="18" fill="rgb(167,210,127)"/><text class="c" x="757" y="13.5">12.7%</text>
<rect x="791" y="0" width="59" height="18" fill="rgb(210,222,129)"/><text class="c" x="820.5" y="13.5">19.6%</text>
<rect x="850" y="0" width="56" height="18" fill="rgb(99,190,123)"/><text class="c" x="878" y="13.5">1.6%</text>
</g>
<!-- Row 23 -->
<g transform="translate(0,495)">
<text class="l" x="6" y="14">钢铁</text>
<rect class="b" x="146" y="2" width="2" height="15"/><rect class="b" x="206" y="2" width="2" height="15"/><rect class="b" x="266" y="2" width="2" height="15"/><rect class="b" x="326" y="2" width="2" height="15"/><rect class="b" x="386" y="2" width="2" height="15"/>
<text class="v" x="175" y="13.5">0.4%</text><text class="v" x="235" y="13.5">0.5%</text><text class="v" x="295" y="13.5">0.6%</text><text class="v" x="355" y="13.5">0.4%</text><text class="v" x="415" y="13.5">0.4%</text>
<polyline class="s" points="455,11.7 473,6.7 491.5,2 510,15 528,14"/><circle class="mr" cx="491.5" cy="2" r="2.6"/><circle class="mg" cx="510" cy="15" r="2.6"/><circle class="mk" cx="528" cy="14" r="2.6"/>
<rect class="gb" x="538" y="1.5" width="58" height="15.5"/><text class="n" x="567" y="13.5">-0.26%</text>
<rect class="pb" x="598" y="1.5" width="56" height="15.5"/><text class="p" x="626" y="13.5">0.02%</text>
<rect class="b" x="661" y="2" width="21.7" height="15"/><text class="y" x="689" y="13.5">22.84%</text>
<rect x="723" y="0" width="68" height="18" fill="rgb(252,187,123)"/><text class="c" x="757" y="13.5">54.0%</text>
<rect x="791" y="0" width="59" height="18" fill="rgb(248,105,107)"/><text class="c" x="820.5" y="13.5">100.0%</text>
<rect x="850" y="0" width="56" height="18" fill="rgb(235,229,131)"/><text class="c" x="878" y="13.5">23.7%</text>
</g>
<!-- Row 24 -->
<g transform="translate(0,513)">
<text class="l" x="6" y="14">商贸零售</text>
<rect class="b" x="146" y="2" width="2" height="15"/><rect class="b" x="206" y="2" width="2" height="15"/><rect class="b" x="266" y="2" width="2" height="15"/><rect class="b" x="326" y="2" width="2.1" height="15"/><rect class="b" x="386" y="2" width="2" height="15"/>
<text class="v" x="175" y="13.5">0.1%</text><text class="v" x="235" y="13.5">0.4%</text><text class="v" x="295" y="13.5">0.5%</text><text class="v" x="355" y="13.5">0.7%</text><text class="v" x="415" y="13.5">0.3%</text>
<polyline class="s" points="455,15 473,8.7 491.5,3.7 510,1.5 528,9.7"/><circle class="mg" cx="455" cy="15" r="2.6"/><circle class="mr" cx="510" cy="1.5" r="2.6"/><circle class="mk" cx="528" cy="9.7" r="2.6"/>
<rect class="pb" x="538" y="1.5" width="58" height="15.5"/><text class="p" x="567" y="13.5">0.13%</text>
<rect class="gb" x="598" y="1.5" width="56" height="15.5"/><text class="n" x="626" y="13.5">-0.32%</text>
<rect class="b" x="661" y="2" width="4.5" height="15"/><text class="y" x="689" y="13.5">4.72%</text>
<rect x="723" y="0" width="68" height="18" fill="rgb(255,235,132)"/><text class="c" x="757" y="13.5">27.0%</text>
<rect x="791" y="0" width="59" height="18" fill="rgb(251,159,117)"/><text class="c" x="820.5" y="13.5">69.6%</text>
<rect x="850" y="0" width="56" height="18" fill="rgb(212,223,130)"/><text class="c" x="878" y="13.5">20.0%</text>
</g>
<!-- Row 25 -->
<g transform="translate(0,531)">
<text class="l" x="6" y="14">消费者服务</text>
<rect class="b" x="146" y="2" width="2" height="15"/><rect class="b" x="206" y="2" width="2" height="15"/><rect class="b" x="266" y="2" width="2" height="15"/><rect class="b" x="326" y="2" width="2" height="15"/><rect class="b" x="386" y="2" width="2" height="15"/>
<text class="v" x="175" y="13.5">0.5%</text><text class="v" x="235" y="13.5">0.5%</text><text class="v" x="295" y="13.5">0.5%</text><text class="v" x="355" y="13.5">0.5%</text><text class="v" x="415" y="13.5">0.3%</text>
<polyline class="s" points="455,3.4 473,3.1 491.5,2.7 510,2 528,16"/><circle class="mr" cx="510" cy="2" r="2.6"/><circle class="mg" cx="528" cy="16" r="2.6"/>
<rect class="pb" x="538" y="1.5" width="58" height="15.5"/><text class="p" x="567" y="13.5">0.00%</text>
<rect class="gb" x="598" y="1.5" width="56" height="15.5"/><text class="n" x="626" y="13.5">-0.20%</text>
<rect class="b" x="661" y="2" width="6.5" height="15"/><text class="y" x="689" y="13.5">6.85%</text>
<rect x="723" y="0" width="68" height="18" fill="rgb(157,207,126)"/><text class="c" x="757" y="13.5">11.1%</text>
<rect x="791" y="0" width="59" height="18" fill="rgb(254,214,128)"/><text class="c" x="820.5" y="13.5">38.8%</text>
<rect x="850" y="0" width="56" height="18" fill="rgb(157,207,126)"/><text class="c" x="878" y="13.5">11.0%</text>
</g>
<!-- Row 26 -->
<g transform="translate(0,549)">
<text class="l" x="6" y="14">煤炭</text>
<rect class="b" x="146" y="2" width="4.6" height="15"/><rect class="b" x="206" y="2" width="2.5" height="15"/><rect class="b" x="266" y="2" width="2" height="15"/><rect class="b" x="326" y="2" width="2" height="15"/><rect class="b" x="386" y="2" width="2" height="15"/>
<text class="v" x="175" y="13.5">1.2%</text><text class="v" x="235" y="13.5">0.8%</text><text class="v" x="295" y="13.5">0.5%</text><text class="v" x="355" y="13.5">0.4%</text><text class="v" x="415" y="13.5">0.3%</text>
<polyline class="s" points="455,2 473,8.2 491.5,12.9 510,14.4 528,16"/><circle class="mr" cx="455" cy="2" r="2.6"/><circle class="mg" cx="528" cy="16" r="2.6"/>
<rect class="gb" x="538" y="1.5" width="58" height="15.5"/><text class="n" x="567" y="13.5">-0.10%</text>
<rect class="gb" x="598" y="1.5" width="56" height="15.5"/><text class="n" x="626" y="13.5">-0.09%</text>
<rect class="b" x="661" y="2" width="18.1" height="15"/><text class="y" x="689" y="13.5">19.02%</text>
<rect x="723" y="0" width="68" height="18" fill="rgb(216,224,130)"/><text class="c" x="757" y="13.5">20.6%</text>
<rect x="791" y="0" width="59" height="18" fill="rgb(254,210,127)"/><text class="c" x="820.5" y="13.5">41.0%</text>
<rect x="850" y="0" width="56" height="18" fill="rgb(254,217,129)"/><text class="c" x="878" y="13.5">37.1%</text>
</g>
<!-- Row 27 -->
<g transform="translate(0,567)">
<text class="l" x="6" y="14">纺织服装</text>
<rect class="b" x="146" y="2" width="2" height="15"/><rect class="b" x="206" y="2" width="2" height="15"/><rect class="b" x="266" y="2" width="2" height="15"/><rect class="b" x="326" y="2" width="2" height="15"/><rect class="b" x="386" y="2" width="2" height="15"/>
<text class="v" x="175" y="13.5">0.5%</text><text class="v" x="235" y="13.5">0.5%</text><text class="v" x="295" y="13.5">0.4%</text><text class="v" x="355" y="13.5">0.3%</text><text class="v" x="415" y="13.5">0.1%</text>
<polyline class="s" points="455,3.4 473,2 491.5,5.5 510,9 528,16"/><circle class="mr" cx="473" cy="2" r="2.6"/><circle class="mg" cx="528" cy="16" r="2.6"/>
<rect class="gb" x="538" y="1.5" width="58" height="15.5"/><text class="n" x="567" y="13.5">-0.11%</text>
<rect class="gb" x="598" y="1.5" width="56" height="15.5"/><text class="n" x="626" y="13.5">-0.18%</text>
<rect class="b" x="661" y="2" width="7.6" height="15"/><text class="y" x="689" y="13.5">8.05%</text>
<rect x="723" y="0" width="68" height="18" fill="rgb(128,198,125)"/><text class="c" x="757" y="13.5">6.3%</text>
<rect x="791" y="0" width="59" height="18" fill="rgb(255,228,131)"/><text class="c" x="820.5" y="13.5">30.6%</text>
<rect x="850" y="0" width="56" height="18" fill="rgb(187,215,128)"/><text class="c" x="878" y="13.5">15.9%</text>
</g>
<!-- Row 28 -->
<g transform="translate(0,585)">
<text class="l" x="6" y="14">综合</text>
<text class="v" x="175" y="13.5">0.0%</text><text class="v" x="235" y="13.5">0.0%</text><text class="v" x="295" y="13.5">0.0%</text><text class="v" x="355" y="13.5">0.0%</text><text class="v" x="415" y="13.5">0.0%</text>
<polyline class="s" points="455,16 473,11.8 491.5,16 510,2 528,13.2"/><circle class="mg" cx="491.5" cy="16" r="2.6"/><circle class="mr" cx="510" cy="2" r="2.6"/><circle class="mk" cx="528" cy="13.2" r="2.6"/>
<rect class="pb" x="538" y="1.5" width="58" height="15.5"/><text class="p" x="567" y="13.5">0.00%</text>
<rect class="gb" x="598" y="1.5" width="56" height="15.5"/><text class="n" x="626" y="13.5">0.00%</text>
<rect class="b" x="661" y="2" width="9.7" height="15"/><text class="y" x="689" y="13.5">10.25%</text>
<rect x="723" y="0" width="68" height="18" fill="rgb(148,204,126)"/><text class="c" x="757" y="13.5">9.5%</text>
<rect x="791" y="0" width="59" height="18" fill="#d9d9d9"/><text class="c" x="820.5" y="13.5">-</text>
<rect x="850" y="0" width="56" height="18" fill="rgb(147,204,126)"/><text class="c" x="878" y="13.5">9.4%</text>
</g>
<!-- Row 29 -->
<g transform="translate(0,603)">
<text class="l" x="6" y="14">综合金融</text>
<text class="v" x="175" y="13.5">0.0%</text><text class="v" x="235" y="13.5">0.0%</text><text class="v" x="295" y="13.5">0.0%</text><text class="v" x="355" y="13.5">0.0%</text><text class="v" x="415" y="13.5">0.0%</text>
<polyline class="s" points="455,13.9 473,13.9 491.5,14.6 510,2 528,16"/><circle class="mg" cx="491.5" cy="14.6" r="2.6"/><circle class="mr" cx="510" cy="2" r="2.6"/><circle class="mk" cx="528" cy="16" r="2.6"/>
<rect class="pb" x="538" y="1.5" width="58" height="15.5"/><text class="p" x="567" y="13.5">0.02%</text>
<rect class="gb" x="598" y="1.5" width="56" height="15.5"/><text class="n" x="626" y="13.5">-0.02%</text>
<rect class="nb" x="654.6" y="2" width="6.4" height="15"/><text class="y" x="689" y="13.5">-6.75%</text>
<rect x="723" y="0" width="68" height="18" fill="rgb(157,207,126)"/><text class="c" x="757" y="13.5">11.1%</text>
<rect x="791" y="0" width="59" height="18" fill="rgb(251,159,117)"/><text class="c" x="820.5" y="13.5">69.6%</text>
<rect x="850" y="0" width="56" height="18" fill="rgb(253,193,124)"/><text class="c" x="878" y="13.5">50.8%</text>
</g>

<!-- grid lines -->
<path d="M723 81V621M791 81V621M850 81V621" stroke="#8a8a8a" stroke-width="0.8" fill="none"/>
<path d="M3 99H906M3 117H906M3 135H906M3 153H906M3 171H906M3 189H906M3 207H906M3 225H906M3 243H906M3 261H906M3 279H906M3 297H906M3 315H906M3 333H906M3 351H906M3 369H906M3 387H906M3 405H906M3 423H906M3 441H906M3 459H906M3 477H906M3 495H906M3 513H906M3 531H906M3 549H906M3 567H906M3 585H906M3 603H906M3 621H906" stroke="#5a5a5a" stroke-width="1.5" fill="none"/>

<text class="f" x="5" y="658">资料来源：Wind，国联民生证券研究所。仅为客观数据，不代表分析师观点。时间截至2025年10月28日11:30。</text>
</svg>
</body></html>
